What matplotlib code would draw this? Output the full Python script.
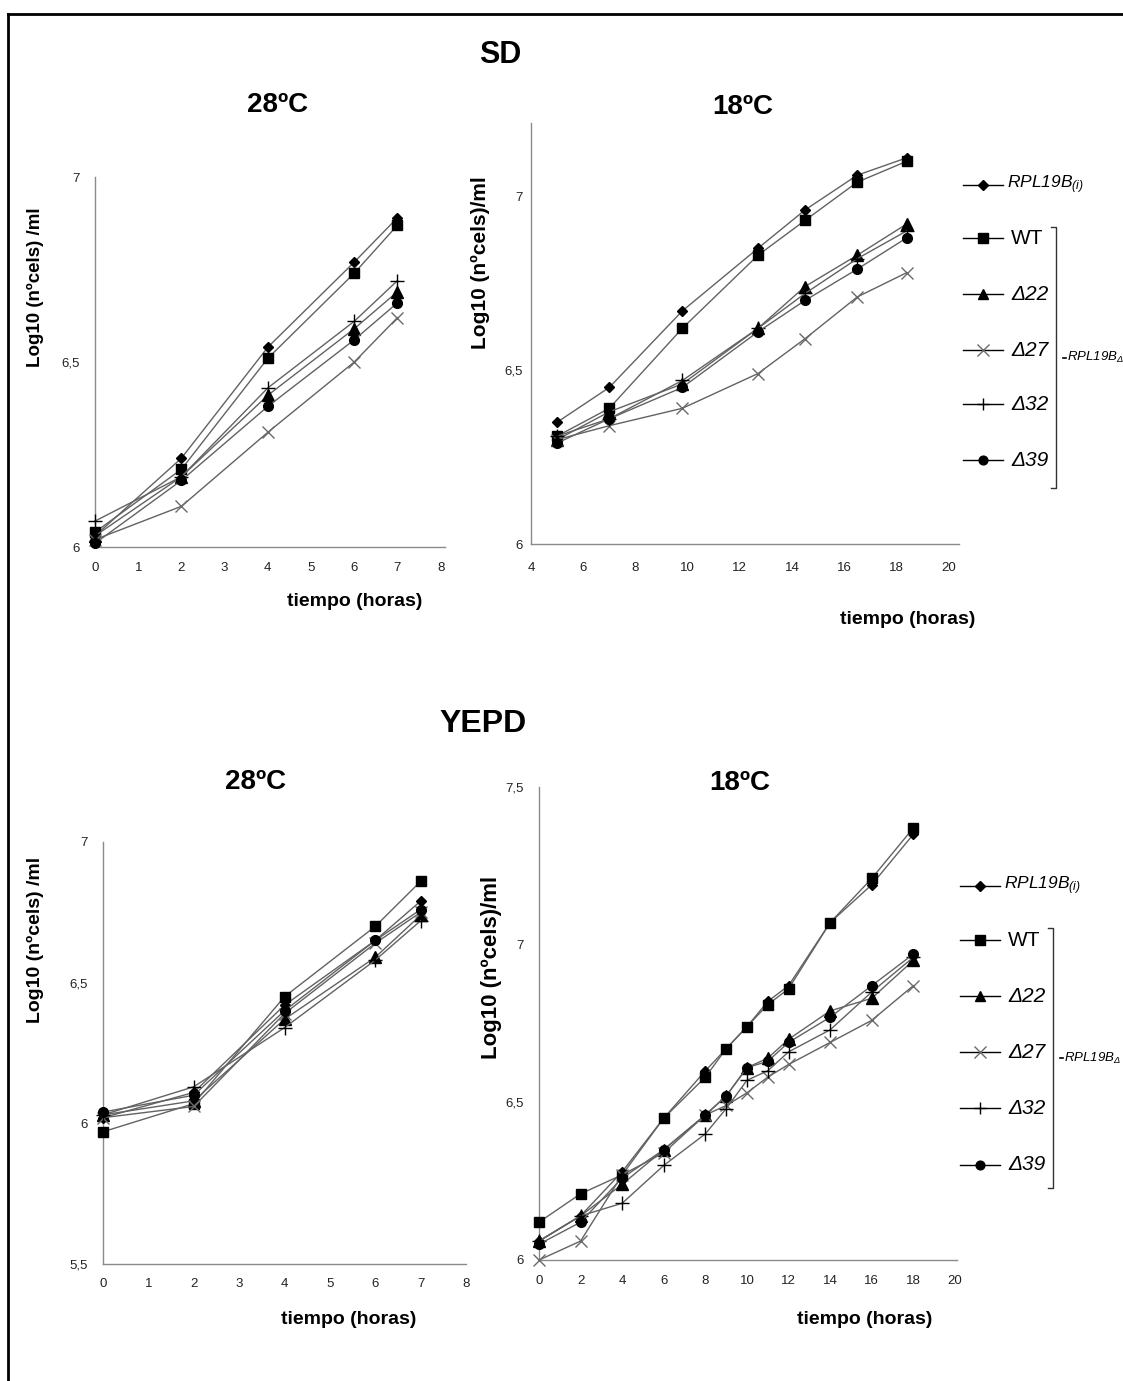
import matplotlib
matplotlib.use('Agg')
import matplotlib.pyplot as plt
from matplotlib.ticker import FuncFormatter

plt.rcParams['mathtext.fontset'] = 'custom'
plt.rcParams['mathtext.rm'] = 'Liberation Sans:italic'
plt.rcParams['mathtext.it'] = 'Liberation Sans:italic'

# ---- data (log10 cells/ml) ----
series = ['RPL19B(i)', 'WT', 'Δ22', 'Δ27', 'Δ32', 'Δ39']

sd28_t = [0, 2, 4, 6, 7]
sd28_rpl = [6.03, 6.24, 6.54, 6.77, 6.89]
sd28_wt = [6.04, 6.21, 6.51, 6.74, 6.87]
sd28_d22 = [6.03, 6.19, 6.41, 6.59, 6.69]
sd28_d27 = [6.02, 6.11, 6.31, 6.50, 6.62]
sd28_d32 = [6.07, 6.19, 6.43, 6.61, 6.72]
sd28_d39 = [6.01, 6.18, 6.38, 6.56, 6.66]

sd18_t = [5, 7, 9.8, 12.7, 14.5, 16.5, 18.4]
sd18_rpl = [6.35, 6.45, 6.67, 6.85, 6.96, 7.06, 7.11]
sd18_wt = [6.31, 6.39, 6.62, 6.83, 6.93, 7.04, 7.10]
sd18_d22 = [6.30, 6.38, 6.46, 6.62, 6.74, 6.83, 6.92]
sd18_d27 = [6.30, 6.34, 6.39, 6.49, 6.59, 6.71, 6.78]
sd18_d32 = [6.31, 6.36, 6.47, 6.62, 6.72, 6.82, 6.90]
sd18_d39 = [6.29, 6.36, 6.45, 6.61, 6.70, 6.79, 6.88]

ye28_t = [0, 2, 4, 6, 7]
ye28_rpl = [6.02, 6.11, 6.42, 6.65, 6.79]
ye28_wt = [5.97, 6.07, 6.45, 6.70, 6.86]
ye28_d22 = [6.03, 6.08, 6.37, 6.59, 6.74]
ye28_d27 = [6.02, 6.06, 6.39, 6.64, 6.75]
ye28_d32 = [6.03, 6.13, 6.34, 6.58, 6.72]
ye28_d39 = [6.04, 6.10, 6.40, 6.65, 6.76]

ye18_t = [0, 2, 4, 6, 8, 9, 10, 11, 12, 14, 16, 18]
ye18_rpl = [6.06, 6.14, 6.28, 6.45, 6.60, 6.67, 6.74, 6.82, 6.87, 7.07, 7.19, 7.35]
ye18_wt = [6.12, 6.21, 6.27, 6.45, 6.58, 6.67, 6.74, 6.81, 6.86, 7.07, 7.21, 7.37]
ye18_d22 = [6.06, 6.14, 6.24, 6.35, 6.46, 6.52, 6.61, 6.64, 6.70, 6.79, 6.83, 6.95]
ye18_d27 = [6.00, 6.06, 6.27, 6.34, 6.46, 6.49, 6.53, 6.58, 6.62, 6.69, 6.76, 6.87]
ye18_d32 = [6.06, 6.14, 6.18, 6.30, 6.40, 6.48, 6.57, 6.60, 6.66, 6.73, 6.85, 6.96]
ye18_d39 = [6.05, 6.12, 6.26, 6.35, 6.46, 6.52, 6.61, 6.63, 6.69, 6.77, 6.87, 6.97]

# marker style per strain
GRAY = '#626262'
marks = {
    'RPL19B(i)': dict(marker='D', ms=5.5, mfc='black', mec='black'),
    'WT': dict(marker='s', ms=7.5, mfc='black', mec='black'),
    'Δ22': dict(marker='^', ms=8, mfc='black', mec='black'),
    'Δ27': dict(marker='x', ms=9, mec='#6a6a6a', mew=1.0),
    'Δ32': dict(marker='+', ms=10, mec='black', mew=1.0),
    'Δ39': dict(marker='o', ms=7, mfc='black', mec='black'),
}

W, H = 1123, 1381
fig = plt.figure(figsize=(W / 100, H / 100), dpi=100)

LBL = ['Liberation Sans Narrow', 'Liberation Sans', 'DejaVu Sans']
TITLE = ['Liberation Sans', 'DejaVu Sans']


def place(left, right, top, bottom):
    return fig.add_axes([left / W, 1 - bottom / H, (right - left) / W, (bottom - top) / H])


def comma(v, pos):
    s = ('%g' % v).replace('.', ',')
    return s


def panel(ax, t, ys, xlim, ylim, xticks, yticks, xpad, ypad):
    for name, y in zip(series, ys):
        ax.plot(t, y, color=GRAY, lw=1.0, clip_on=False, zorder=3, **marks[name])
    ax.set_xlim(*xlim)
    ax.set_ylim(*ylim)
    ax.set_xticks(xticks)
    ax.set_yticks(yticks)
    ax.yaxis.set_major_formatter(FuncFormatter(comma))
    for s in ['top', 'right']:
        ax.spines[s].set_visible(False)
    for s in ['left', 'bottom']:
        ax.spines[s].set_color('#8a8a8a')
        ax.spines[s].set_linewidth(1.0)
    ax.tick_params(axis='x', length=0, pad=xpad, labelsize=9.5, labelcolor='#222222')
    ax.tick_params(axis='y', length=0, pad=ypad, labelsize=9.5, labelcolor='#222222')
    for lab in ax.get_xticklabels() + ax.get_yticklabels():
        lab.set_family(LBL)
    ax.patch.set_alpha(0)


ax1 = place(95, 445, 177, 547)
panel(ax1, sd28_t, [sd28_rpl, sd28_wt, sd28_d22, sd28_d27, sd28_d32, sd28_d39],
      (0, 8.1), (6, 7), range(0, 9), [6, 6.5, 7], 11, 11)

ax2 = place(531, 959, 123, 544)
panel(ax2, sd18_t, [sd18_rpl, sd18_wt, sd18_d22, sd18_d27, sd18_d32, sd18_d39],
      (4, 20.4), (6, 7.21), range(4, 21, 2), [6, 6.5, 7], 13, 6)

ax3 = place(103, 466, 842, 1264)
panel(ax3, ye28_t, [ye28_rpl, ye28_wt, ye28_d22, ye28_d27, ye28_d32, ye28_d39],
      (0, 8), (5.5, 7), range(0, 9), [5.5, 6, 6.5, 7], 10, 11)

ax4 = place(539, 957, 787, 1260)
panel(ax4, ye18_t, [ye18_rpl, ye18_wt, ye18_d22, ye18_d27, ye18_d32, ye18_d39],
      (0, 20.1), (6, 7.5), range(0, 21, 2), [6, 6.5, 7, 7.5], 11, 11)

# overlay in pixel coordinates for titles, labels, legends and frame
ov = fig.add_axes([0, 0, 1, 1])
ov.set_xlim(0, W)
ov.set_ylim(H, 0)
ov.axis('off')
ov.patch.set_alpha(0)

# frame
ov.plot([8, W], [14, 14], color='black', lw=2, clip_on=False)
ov.plot([8, 8], [14, H], color='black', lw=2, clip_on=False)

ov.text(500, 55, 'SD', ha='center', va='center', fontsize=22, fontweight='bold', family=TITLE)
ov.text(483, 724, 'YEPD', ha='center', va='center', fontsize=23, fontweight='bold', family=TITLE)
for x, y in [(278, 105), (743, 107), (256, 782), (740, 783)]:
    lab = '28ºC' if x < 400 else '18ºC'
    ov.text(x, y, lab, ha='center', va='center', fontsize=20, fontweight='bold', family=TITLE)

for x, y in [(355, 601), (908, 619), (349, 1319), (865, 1319)]:
    ov.text(x, y, 'tiempo (horas)', ha='center', va='center', fontsize=14,
            fontweight='bold', family=LBL)
for x, y, lab, fs in [(35, 287, 'Log10 (nºcels) /ml', 13.5), (480, 263, 'Log10 (nºcels)/ml', 15),
                      (35, 940, 'Log10 (nºcels) /ml', 14), (492, 967, 'Log10 (nºcels)/ml', 16)]:
    ov.text(x, y, lab, ha='center', va='center', rotation=90, fontsize=fs,
            fontweight='bold', family=LBL)


def legend(x0, ys, bx, btop, bbot):
    for name, y in zip(series, ys):
        st = dict(marks[name])
        st['ms'] = st['ms'] * 0.9
        ov.plot([x0, x0 + 40], [y, y], color='black', lw=1.0, clip_on=False)
        ov.plot([x0 + 20], [y], clip_on=False, **st)
        if name == 'RPL19B(i)':
            ov.text(x0 + 44, y, r'$RPL19B_{(i)}$', ha='left', va='center', fontsize=12.5)
        elif name == 'WT':
            ov.text(x0 + 48, y, name, ha='left', va='center', fontsize=15, family=TITLE)
        else:
            ov.text(x0 + 48, y, name, ha='left', va='center', fontsize=15, style='italic',
                    family=TITLE)
    ym = (btop + bbot) / 2
    ov.plot([bx - 5, bx, bx, bx - 5], [btop, btop, bbot, bbot], color='#333333', lw=1.0,
            clip_on=False)
    ov.plot([bx + 7, bx + 10], [ym, ym], color='black', lw=1.2, clip_on=False)
    ov.text(bx + 11, ym, r'$RPL19B_{\Delta}$', ha='left', va='center', fontsize=9.5)


legend(963, [185, 238, 294, 350, 404, 460], 1056, 227, 488)
legend(960, [886, 940, 996, 1052, 1108, 1165], 1053, 928, 1188)

fig.savefig('out.png', dpi=100)
